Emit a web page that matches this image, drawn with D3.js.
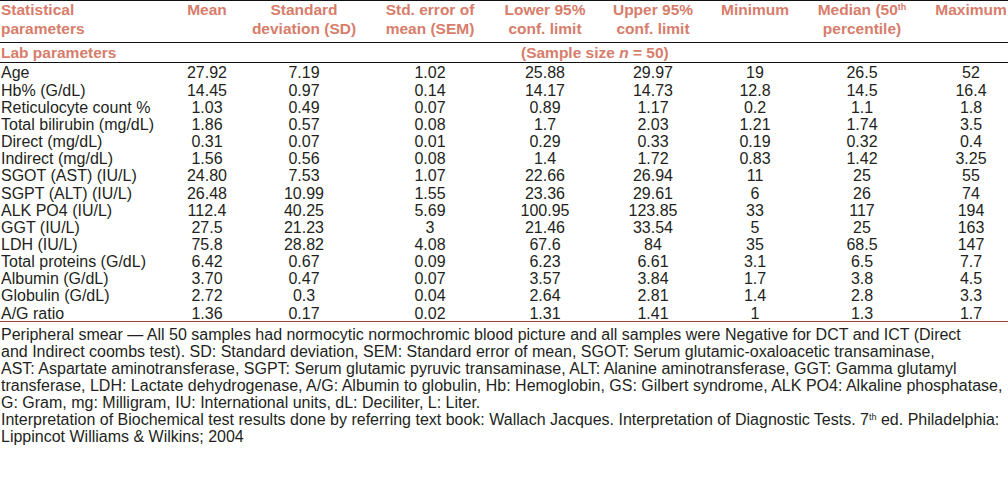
<!DOCTYPE html>
<html>
<head>
<meta charset="utf-8">
<script src="https://cdn.jsdelivr.net/npm/d3@7"></script>
<style>
  html, body { margin: 0; padding: 0; background: #fff; }
  svg { display: block; font-family: "Liberation Sans", Arial, sans-serif; }
</style>
</head>
<body>
<svg id="chart" width="1008" height="489"></svg>
<script>
// ---- data ----
const parameters = ["Age", "Hb% (G/dL)", "Reticulocyte count %", "Total bilirubin (mg/dL)", "Direct (mg/dL)",
  "Indirect (mg/dL)", "SGOT (AST) (IU/L)", "SGPT (ALT) (IU/L)", "ALK PO4 (IU/L)", "GGT (IU/L)", "LDH (IU/L)",
  "Total proteins (G/dL)", "Albumin (G/dL)", "Globulin (G/dL)", "A/G ratio"];
const meanVals   = ["27.92", "14.45", "1.03", "1.86", "0.31", "1.56", "24.80", "26.48", "112.4", "27.5", "75.8", "6.42", "3.70", "2.72", "1.36"];
const sdVals     = ["7.19", "0.97", "0.49", "0.57", "0.07", "0.56", "7.53", "10.99", "40.25", "21.23", "28.82", "0.67", "0.47", "0.3", "0.17"];
const semVals    = ["1.02", "0.14", "0.07", "0.08", "0.01", "0.08", "1.07", "1.55", "5.69", "3", "4.08", "0.09", "0.07", "0.04", "0.02"];
const lowerVals  = ["25.88", "14.17", "0.89", "1.7", "0.29", "1.4", "22.66", "23.36", "100.95", "21.46", "67.6", "6.23", "3.57", "2.64", "1.31"];
const upperVals  = ["29.97", "14.73", "1.17", "2.03", "0.33", "1.72", "26.94", "29.61", "123.85", "33.54", "84", "6.61", "3.84", "2.81", "1.41"];
const minVals    = ["19", "12.8", "0.2", "1.21", "0.19", "0.83", "11", "6", "33", "5", "35", "3.1", "1.7", "1.4", "1"];
const medianVals = ["26.5", "14.5", "1.1", "1.74", "0.32", "1.42", "25", "26", "117", "25", "68.5", "6.5", "3.8", "2.8", "1.3"];
const maxVals    = ["52", "16.4", "1.8", "3.5", "0.4", "3.25", "55", "74", "194", "163", "147", "7.7", "4.5", "3.3", "1.7"];

const columnKeys = ["mean", "sd", "sem", "lower", "upper", "min", "median", "max"];
const headerLine1 = ["Mean", "Standard", "Std. error of", "Lower 95%", "Upper 95%", "Minimum", "Median (50", "Maximum"];
const headerLine2 = ["", "deviation (SD)", "mean (SEM)", "conf. limit", "conf. limit", "", "percentile)", ""];

const footnotes = [
  "Peripheral smear \u2014 All 50 samples had normocytic normochromic blood picture and all samples were Negative for DCT and ICT (Direct",
  "and Indirect coombs test). SD: Standard deviation, SEM: Standard error of mean, SGOT: Serum glutamic-oxaloacetic transaminase,",
  "AST: Aspartate aminotransferase, SGPT: Serum glutamic pyruvic transaminase, ALT: Alanine aminotransferase, GGT: Gamma glutamyl",
  "transferase, LDH: Lactate dehydrogenase, A/G: Albumin to globulin, Hb: Hemoglobin, GS: Gilbert syndrome, ALK PO4: Alkaline phosphatase,",
  "G: Gram, mg: Milligram, IU: International units, dL: Deciliter, L: Liter.",
  "Interpretation of Biochemical test results done by referring text book: Wallach Jacques. Interpretation of Diagnostic Tests. 7|th|  ed. Philadelphia:",
  "Lippincot Williams & Wilkins; 2004"
];

const columns = [meanVals, sdVals, semVals, lowerVals, upperVals, minVals, medianVals, maxVals];

// ---- layout ----
const svg = d3.select("#chart");
const headColor = "#d77d6b";
const textColor = "#231f20";
const fsHead = 15.5;
const fsBody = 16;
const fsFoot = 16;

const x = d3.scaleOrdinal().domain(columnKeys).range([207, 304, 430, 545, 653, 755, 862, 971]);
const y = d3.scaleBand().domain(parameters).range([64.4, 321.6]);
const fy = d3.scaleBand().domain(d3.range(footnotes.length)).range([326, 445]);

// rules
const rules = [
  {y: 0.5, c: "#111"},
  {y: 42.5, c: "#111"},
  {y: 62.5, c: "#111"},
  {y: 321.5, c: "#a3413b"}
];
svg.selectAll("line.rule").data(rules).join("line")
  .attr("class", "rule")
  .attr("x1", 0).attr("x2", 1008)
  .attr("y1", d => d.y).attr("y2", d => d.y)
  .attr("stroke", d => d.c).attr("stroke-width", 1.2);

// header
const head = svg.append("g").attr("font-weight", "bold").attr("fill", headColor).attr("font-size", fsHead);
head.append("text").attr("x", 1).attr("y", 15).text("Statistical");
head.append("text").attr("x", 1).attr("y", 34).text("parameters");
const h1 = head.selectAll("text.h1").data(columnKeys).join("text")
  .attr("class", "h1")
  .attr("x", d => x(d)).attr("y", 15).attr("text-anchor", "middle");
h1.each(function(d, i) {
  const t = d3.select(this);
  t.append("tspan").text(headerLine1[i]);
  if (d === "median") {
    t.append("tspan").attr("font-size", 9).attr("dy", -5).text("th");
  }
});
head.selectAll("text.h2").data(columnKeys).join("text")
  .attr("class", "h2")
  .attr("x", d => x(d)).attr("y", 34).attr("text-anchor", "middle")
  .text((d, i) => headerLine2[i]);

head.append("text").attr("x", 1).attr("y", 58).text("Lab parameters");
const ss = head.append("text").attr("x", 521).attr("y", 58);
ss.append("tspan").text("(Sample size ");
ss.append("tspan").attr("font-style", "italic").text("n");
ss.append("tspan").text(" = 50)");

// body
const body = svg.append("g").attr("fill", textColor).attr("font-size", fsBody);
body.selectAll("text.param").data(parameters).join("text")
  .attr("class", "param")
  .attr("x", 1)
  .attr("y", d => y(d) + y.bandwidth() / 2 + 5.5)
  .text(d => d);

columnKeys.forEach((key, ci) => {
  body.selectAll("text.c" + ci).data(columns[ci]).join("text")
    .attr("class", "c" + ci)
    .attr("x", x(key))
    .attr("y", (d, i) => y(parameters[i]) + y.bandwidth() / 2 + 5.5)
    .attr("text-anchor", "middle")
    .text(d => d);
});

// footnotes
const foot = svg.append("g").attr("fill", textColor).attr("font-size", fsFoot);
foot.selectAll("text").data(footnotes).join("text")
  .attr("x", 1)
  .attr("y", (d, i) => fy(i) + fy.bandwidth() / 2 + 5.5)
  .each(function(d) {
    const parts = d.split("|");
    const t = d3.select(this);
    if (parts.length === 1) { t.text(d); return; }
    t.append("tspan").text(parts[0]);
    t.append("tspan").attr("font-size", 9).attr("dy", -5).text(parts[1]);
    t.append("tspan").attr("dy", 5).text(parts[2]);
  });
</script>
</body>
</html>
